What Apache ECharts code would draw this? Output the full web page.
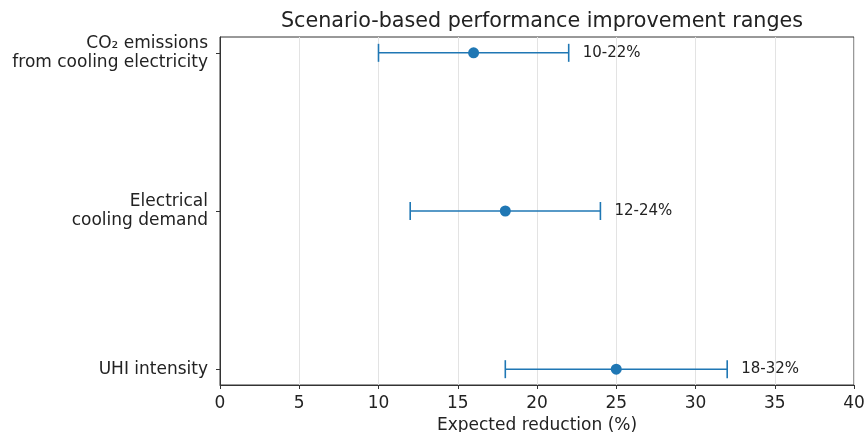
<!DOCTYPE html>
<html>
<head>
<meta charset="utf-8">
<script src="https://cdn.jsdelivr.net/npm/echarts@6/dist/echarts.min.js"></script>
<style>html,body{margin:0;padding:0;background:#fff}#c{width:865px;height:432px}</style>
</head>
<body>
<div id="c"></div>
<script>
var categories = ['CO\u2082 emissions\nfrom cooling electricity', 'Electrical\ncooling demand', 'UHI intensity'];
var centers = [16, 18, 25];
var lows = [10, 12, 18];
var highs = [22, 24, 32];
var rangeLabels = ['10-22%', '12-24%', '18-32%'];
var xTicks = [0, 5, 10, 15, 20, 25, 30, 35, 40];

var FONT = 'DejaVu Sans';
var BLUE = '#1f77b4';

var errData = categories.map(function (c, i) { return [i, lows[i], highs[i], rangeLabels[i]]; });
var ptData = categories.map(function (c, i) { return [centers[i], i]; });

var chart = echarts.init(document.getElementById('c'), null, { renderer: 'canvas' });
chart.setOption({
  animation: false,
  backgroundColor: '#fff',
  title: {
    text: 'Scenario-based performance improvement ranges',
    left: 537, top: 6, textAlign: 'center',
    textStyle: { fontFamily: FONT, fontSize: 20.7, fontWeight: 'normal', color: '#222' }
  },
  grid: { left: 220, right: 11, top: 37, bottom: 47, outerBoundsMode: 'none', containLabel: false,
    show: true, borderColor: '#333', borderWidth: 1, backgroundColor: 'transparent' },
  xAxis: {
    type: 'value', min: 0, max: 40, interval: 5,
    name: 'Expected reduction (%)', nameLocation: 'middle', nameGap: 32,
    nameTextStyle: { fontFamily: FONT, fontSize: 17, color: '#222' },
    axisLine: { show: true, onZero: false, lineStyle: { color: '#333', width: 1 } },
    axisTick: { show: true, inside: false, length: 4, lineStyle: { color: '#333' } },
    axisLabel: { fontFamily: FONT, fontSize: 17, color: '#222', margin: 10, hideOverlap: false,
      formatter: function (v) { return xTicks.indexOf(v) >= 0 ? String(v) : ''; } },
    splitLine: { show: true, lineStyle: { color: '#e3e3e3', width: 1 } }
  },
  yAxis: {
    type: 'value', min: -0.1, max: 2.1, inverse: true,
    axisLine: { show: true, onZero: false, lineStyle: { color: '#333', width: 1 } },
    axisTick: { show: true, inside: false, length: 4, customValues: [0, 1, 2], lineStyle: { color: '#333' } },
    axisLabel: { fontFamily: FONT, fontSize: 17, color: '#222', margin: 12, lineHeight: 19, align: 'right',
      customValues: [0, 1, 2],
      formatter: function (v) { var i = Math.round(v); return categories[i] || ''; } },
    splitLine: { show: false }
  },
  series: [
    {
      type: 'custom',
      data: errData,
      encode: { x: [1, 2], y: 0 },
      z: 2,
      renderItem: function (params, api) {
        var y = api.value(0);
        var lo = api.coord([api.value(1), y]);
        var hi = api.coord([api.value(2), y]);
        var cap = 9;
        var st = { stroke: BLUE, lineWidth: 1.6 };
        return {
          type: 'group',
          children: [
            { type: 'line', shape: { x1: lo[0], y1: lo[1], x2: hi[0], y2: hi[1] }, style: st },
            { type: 'line', shape: { x1: lo[0], y1: lo[1] - cap, x2: lo[0], y2: lo[1] + cap }, style: st },
            { type: 'line', shape: { x1: hi[0], y1: hi[1] - cap, x2: hi[0], y2: hi[1] + cap }, style: st },
            { type: 'text', x: hi[0] + 14, y: hi[1], style: { text: api.value(3), fill: '#222', font: '15px "DejaVu Sans"', verticalAlign: 'middle', align: 'left' } }
          ]
        };
      }
    },
    {
      type: 'scatter',
      data: ptData,
      symbol: 'circle',
      symbolSize: 11,
      itemStyle: { color: BLUE, opacity: 1 },
      z: 3
    }
  ]
});
</script>
</body>
</html>
